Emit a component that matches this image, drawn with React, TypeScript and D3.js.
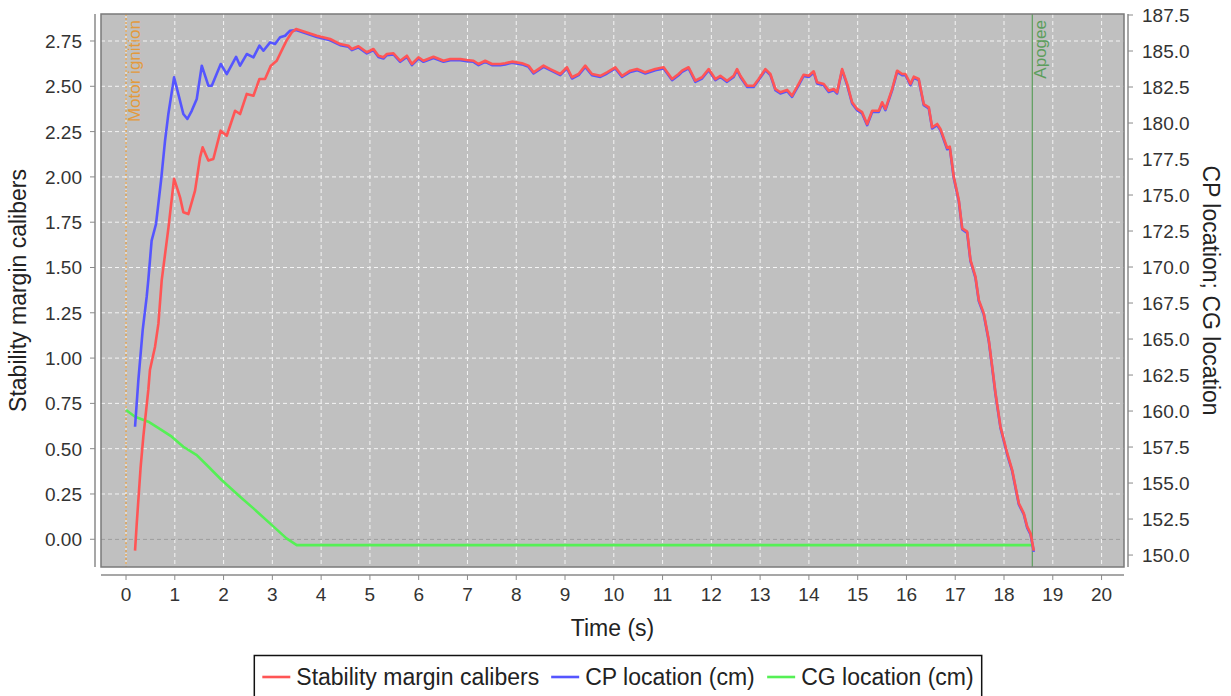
import React, { useMemo } from 'react';
import * as d3 from 'd3';

const W = 1231;
const H = 696;

// Boost phase: stability margin (calibers) and CP position (cm) separate clearly
const boostStabilityTime = [0.185, 0.22, 0.3, 0.355, 0.457, 0.49, 0.595, 0.664, 0.732, 0.87, 0.985, 1.108, 1.175, 1.278, 1.415, 1.518, 1.57, 1.688, 1.79, 1.94, 2.065, 2.236, 2.338, 2.475, 2.612, 2.735, 2.85, 2.97, 3.09, 3.19, 3.29, 3.4];
const boostStability = [-0.063, 0.088, 0.4, 0.566, 0.824, 0.934, 1.063, 1.19, 1.43, 1.72, 1.99, 1.887, 1.805, 1.795, 1.924, 2.108, 2.163, 2.09, 2.099, 2.255, 2.227, 2.365, 2.347, 2.458, 2.448, 2.54, 2.54, 2.614, 2.641, 2.697, 2.752, 2.798];

const boostCpTime = [0.185, 0.253, 0.342, 0.424, 0.457, 0.525, 0.615, 0.718, 0.8, 0.868, 0.985, 1.073, 1.175, 1.258, 1.347, 1.45, 1.553, 1.688, 1.758, 1.942, 2.065, 2.256, 2.338, 2.475, 2.612, 2.735, 2.817, 2.954, 3.056, 3.159, 3.262, 3.364];
const boostCp = [158.91, 162.15, 165.63, 167.94, 169.1, 171.83, 172.99, 176.0, 178.77, 180.63, 183.17, 182.01, 180.63, 180.28, 180.85, 181.67, 183.98, 182.59, 182.59, 184.1, 183.4, 184.6, 183.98, 184.79, 184.56, 185.37, 185.02, 185.6, 185.49, 185.95, 186.06, 186.41];

// Coast phase: both curves sampled at the same instants
const coastTime = [3.487, 3.912, 4.185, 4.39, 4.56, 4.63, 4.765, 4.937, 5.073, 5.175, 5.278, 5.348, 5.483, 5.621, 5.758, 5.861, 5.996, 6.098, 6.304, 6.509, 6.646, 6.851, 6.989, 7.124, 7.227, 7.364, 7.502, 7.672, 7.774, 7.912, 8.117, 8.252, 8.355, 8.56, 8.697, 8.903, 9.04, 9.143, 9.278, 9.415, 9.553, 9.723, 9.861, 10.031, 10.168, 10.338, 10.476, 10.646, 10.851, 11.022, 11.194, 11.329, 11.399, 11.534, 11.672, 11.809, 11.945, 12.082, 12.185, 12.322, 12.458, 12.527, 12.595, 12.732, 12.868, 12.97, 13.108, 13.21, 13.313, 13.415, 13.553, 13.655, 13.791, 13.893, 13.996, 14.098, 14.168, 14.304, 14.406, 14.509, 14.578, 14.681, 14.784, 14.886, 14.989, 15.091, 15.194, 15.297, 15.432, 15.502, 15.569, 15.707, 15.809, 15.912, 15.979, 16.082, 16.15, 16.252, 16.355, 16.458, 16.527, 16.63, 16.697, 16.835, 16.888, 16.97, 17.073, 17.143, 17.245, 17.313, 17.415, 17.483, 17.585, 17.688, 17.758, 17.826, 17.928, 18.066, 18.168, 18.304, 18.406, 18.476, 18.544, 18.611];
const coastStability = [2.816, 2.779, 2.761, 2.733, 2.724, 2.706, 2.721, 2.688, 2.706, 2.669, 2.66, 2.678, 2.682, 2.641, 2.669, 2.623, 2.66, 2.641, 2.663, 2.641, 2.651, 2.651, 2.645, 2.641, 2.623, 2.641, 2.623, 2.623, 2.627, 2.636, 2.627, 2.614, 2.577, 2.614, 2.595, 2.568, 2.605, 2.55, 2.568, 2.614, 2.568, 2.558, 2.577, 2.605, 2.558, 2.586, 2.595, 2.577, 2.595, 2.605, 2.54, 2.568, 2.586, 2.605, 2.531, 2.55, 2.595, 2.54, 2.558, 2.531, 2.558, 2.595, 2.558, 2.503, 2.503, 2.54, 2.595, 2.568, 2.485, 2.467, 2.48, 2.448, 2.513, 2.564, 2.558, 2.583, 2.522, 2.513, 2.476, 2.485, 2.467, 2.595, 2.513, 2.412, 2.375, 2.357, 2.292, 2.365, 2.365, 2.412, 2.375, 2.485, 2.586, 2.568, 2.568, 2.513, 2.553, 2.54, 2.402, 2.384, 2.274, 2.292, 2.264, 2.16, 2.167, 2.001, 1.873, 1.716, 1.698, 1.541, 1.449, 1.321, 1.247, 1.1, 0.953, 0.806, 0.621, 0.475, 0.382, 0.199, 0.143, 0.07, 0.033, -0.063];
const coastCp = [186.45, 185.98, 185.75, 185.41, 185.29, 185.06, 185.25, 184.83, 185.06, 184.59, 184.48, 184.71, 184.76, 184.25, 184.59, 184.02, 184.48, 184.25, 184.52, 184.25, 184.36, 184.36, 184.3, 184.25, 184.02, 184.25, 184.02, 184.02, 184.07, 184.18, 184.07, 183.9, 183.44, 183.9, 183.67, 183.32, 183.79, 183.09, 183.32, 183.9, 183.32, 183.2, 183.44, 183.79, 183.2, 183.55, 183.67, 183.44, 183.67, 183.79, 182.98, 183.32, 183.55, 183.79, 182.86, 183.09, 183.67, 182.98, 183.2, 182.86, 183.2, 183.67, 183.2, 182.51, 182.51, 182.98, 183.67, 183.32, 182.28, 182.05, 182.21, 181.82, 182.63, 183.27, 183.2, 183.51, 182.75, 182.63, 182.16, 182.28, 182.05, 183.67, 182.63, 181.36, 180.89, 180.66, 179.85, 180.77, 180.77, 181.36, 180.89, 182.28, 183.55, 183.32, 183.32, 182.63, 183.14, 182.98, 181.24, 181.01, 179.62, 179.85, 179.5, 178.18, 178.27, 176.19, 174.57, 172.61, 172.37, 170.41, 169.25, 167.63, 166.7, 164.85, 163.0, 161.15, 158.83, 156.98, 155.82, 153.51, 152.82, 151.89, 151.43, 150.22];

// CG position (cm)
const cgTime = [0, 0.185, 0.457, 0.732, 0.937, 1.175, 1.45, 1.655, 1.96, 2.338, 2.612, 2.99, 3.29, 3.5, 18.56];
const cgValues = [160.07, 159.6, 159.26, 158.68, 158.22, 157.52, 156.94, 156.25, 155.21, 154.05, 153.24, 152.08, 151.16, 150.69, 150.69];

// Axis ticks
const timeTicks = [0, 1, 2, 3, 4, 5, 6, 7, 8, 9, 10, 11, 12, 13, 14, 15, 16, 17, 18, 19, 20];
const marginTicks = [0, 0.25, 0.5, 0.75, 1, 1.25, 1.5, 1.75, 2, 2.25, 2.5, 2.75];
const locationTicks = [150, 152.5, 155, 157.5, 160, 162.5, 165, 167.5, 170, 172.5, 175, 177.5, 180, 182.5, 185, 187.5];

// Flight events
const eventTimes = [0, 18.58];
const eventLabels = ['Motor ignition', 'Apogee'];
const eventColors = ['#e39a3c', '#5c9e5c'];

const seriesNames = ['Stability margin calibers', 'CP location (cm)', 'CG location (cm)'];
const seriesColors = ['#ff5555', '#5555ff', '#55f055'];

const FONT = '"Liberation Sans", Arial, sans-serif';

const plot = { left: 101, right: 1124, top: 14, bottom: 567 };

function measure(text: string, size: number) {
  const c = document.createElement('canvas').getContext('2d');
  if (!c) return text.length * size * 0.5;
  c.font = `${size}px ${FONT}`;
  return c.measureText(text).width;
}

export default function App() {
  const x = d3.scaleLinear().domain([-0.513, 20.46]).range([plot.left, plot.right]);
  const yL = d3.scaleLinear().domain([-0.153, 2.899]).range([plot.bottom, plot.top]);
  const yR = d3.scaleLinear().domain([149.17, 187.57]).range([plot.bottom, plot.top]);

  const stability = useMemo(
    () => boostStabilityTime.map((t, i) => [t, boostStability[i]]).concat(coastTime.map((t, i) => [t, coastStability[i]])),
    []
  );
  const cp = useMemo(
    () => boostCpTime.map((t, i) => [t, boostCp[i]]).concat(coastTime.map((t, i) => [t, coastCp[i]])),
    []
  );
  const cg = useMemo(() => cgTime.map((t, i) => [t, cgValues[i]]), []);

  const lineL = d3.line<number[]>().x((d) => x(d[0])).y((d) => yL(d[1]));
  const lineR = d3.line<number[]>().x((d) => x(d[0])).y((d) => yR(d[1]));

  const tickFont = 19;
  const labelFont = 23;
  const legendFont = 23;

  // legend layout
  const sampleW = 28;
  const sampleGap = 6;
  const itemGap = 12;
  const widths = seriesNames.map((n) => measure(n, legendFont));
  const itemsW = widths.reduce((a, w) => a + sampleW + sampleGap + w, 0) + itemGap * (seriesNames.length - 1);
  const boxPad = 8;
  const boxW = itemsW + boxPad * 2;
  const boxX = 618 - boxW / 2;
  const boxY = 655.5;
  let cursor = boxX + boxPad;
  const legendItems = seriesNames.map((n, i) => {
    const start = cursor;
    cursor += sampleW + sampleGap + widths[i] + itemGap;
    return { name: n, color: seriesColors[i], x: start };
  });

  const axisColor = '#8a8a8a';

  return (
    <svg width={W} height={H} style={{ position: 'absolute', left: 0, top: 0, background: '#fff' }} fontFamily={FONT}>
      <rect x={0} y={0} width={W} height={H} fill="#fff" />
      {/* plot background */}
      <rect x={plot.left} y={plot.top} width={plot.right - plot.left} height={plot.bottom - plot.top} fill="#c0c0c0" />

      {/* grid */}
      <g stroke="#f4f4f4" strokeWidth={1} strokeDasharray="4,3">
        {timeTicks.map((t) => (
          <line key={'gx' + t} x1={x(t)} x2={x(t)} y1={plot.top} y2={plot.bottom} />
        ))}
        {marginTicks.map((v) => (
          <line key={'gy' + v} x1={plot.left} x2={plot.right} y1={yL(v)} y2={yL(v)} />
        ))}
      </g>
      {/* zero line */}
      <line x1={plot.left} x2={plot.right} y1={yL(0)} y2={yL(0)} stroke="#8c8c8c" strokeWidth={1} strokeDasharray="4,3" />

      {/* flight events */}
      {eventTimes.map((t, i) => (
        <g key={'ev' + i}>
          <line
            x1={x(t)}
            x2={x(t)}
            y1={plot.top}
            y2={plot.bottom}
            stroke={eventColors[i]}
            strokeWidth={1.2}
            strokeDasharray={i === 0 ? '2,2' : undefined}
          />
          <text
            transform={`translate(${x(t) + 14},${plot.top + 6}) rotate(-90)`}
            textAnchor="end"
            fontSize={17}
            fill={eventColors[i]}
          >
            {eventLabels[i]}
          </text>
        </g>
      ))}

      {/* series */}
      <path d={lineR(cg) || ''} fill="none" stroke={seriesColors[2]} strokeWidth={2.6} strokeLinejoin="round" />
      <path d={lineR(cp) || ''} fill="none" stroke={seriesColors[1]} strokeWidth={2.6} strokeLinejoin="round" />
      <path d={lineL(stability) || ''} fill="none" stroke={seriesColors[0]} strokeWidth={2.6} strokeLinejoin="round" />

      {/* plot outline */}
      <rect
        x={plot.left}
        y={plot.top}
        width={plot.right - plot.left}
        height={plot.bottom - plot.top}
        fill="none"
        stroke="#7a7a7a"
        strokeWidth={1.5}
      />

      {/* left axis */}
      <g>
        <line x1={95} x2={95} y1={plot.top} y2={plot.bottom} stroke={axisColor} strokeWidth={1.5} />
        {marginTicks.map((v) => (
          <g key={'l' + v}>
            <line x1={90} x2={95} y1={yL(v)} y2={yL(v)} stroke={axisColor} />
            <text x={82} y={yL(v) + 7} textAnchor="end" fontSize={tickFont} fill="#333">
              {d3.format('.2f')(v)}
            </text>
          </g>
        ))}
        <text
          transform={`translate(26,${(plot.top + plot.bottom) / 2}) rotate(-90)`}
          textAnchor="middle"
          fontSize={labelFont}
          fill="#222"
        >
          Stability margin calibers
        </text>
      </g>

      {/* right axis */}
      <g>
        <line x1={1128} x2={1128} y1={plot.top} y2={plot.bottom} stroke={axisColor} strokeWidth={1.5} />
        {locationTicks.map((v) => (
          <g key={'r' + v}>
            <line x1={1128} x2={1133} y1={yR(v)} y2={yR(v)} stroke={axisColor} />
            <text x={1142} y={yR(v) + 7} textAnchor="start" fontSize={tickFont} fill="#333">
              {d3.format('.1f')(v)}
            </text>
          </g>
        ))}
        <text
          transform={`translate(1203,${(plot.top + plot.bottom) / 2}) rotate(90)`}
          textAnchor="middle"
          fontSize={labelFont}
          fill="#222"
        >
          CP location; CG location
        </text>
      </g>

      {/* bottom axis */}
      <g>
        <line x1={plot.left} x2={plot.right} y1={575} y2={575} stroke={axisColor} strokeWidth={1.5} />
        {timeTicks.map((t) => (
          <g key={'b' + t}>
            <line x1={x(t)} x2={x(t)} y1={575} y2={580} stroke={axisColor} />
            <text x={x(t)} y={601} textAnchor="middle" fontSize={tickFont} fill="#333">
              {t}
            </text>
          </g>
        ))}
        <text x={(plot.left + plot.right) / 2} y={636} textAnchor="middle" fontSize={labelFont} fill="#222">
          Time (s)
        </text>
      </g>

      {/* legend */}
      <rect x={boxX} y={boxY} width={boxW} height={60} fill="#fff" stroke="#111" strokeWidth={1.5} />
      {legendItems.map((it) => (
        <g key={it.name}>
          <line x1={it.x} x2={it.x + sampleW} y1={677} y2={677} stroke={it.color} strokeWidth={2.6} />
          <text x={it.x + sampleW + sampleGap} y={684.5} fontSize={legendFont} fill="#222">
            {it.name}
          </text>
        </g>
      ))}
    </svg>
  );
}
